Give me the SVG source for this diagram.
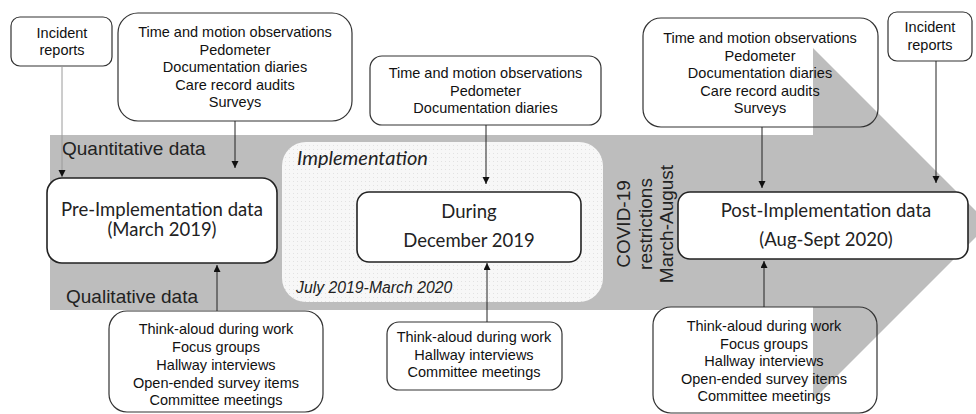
<svg xmlns="http://www.w3.org/2000/svg" xmlns:xlink="http://www.w3.org/1999/xlink" width="976" height="414" viewBox="0 0 976 414">
<defs>
<style>
.box{fill:#fff;stroke:#333;stroke-width:1.2}
.bstroke{fill:none;stroke:#333;stroke-width:1.2}
.main{fill:#fff;stroke:#222;stroke-width:1.6}
.t{font-family:"Liberation Sans",Arial,sans-serif;font-size:14.5px;fill:#111;text-anchor:middle}
.m{font-family:Lato,"Open Sans",sans-serif;font-size:18.5px;fill:#222;text-anchor:middle}
.lab{font-family:"Liberation Sans",Arial,sans-serif;font-size:19px;fill:#222}
.cv{font-family:"Liberation Sans",Arial,sans-serif;font-size:19px;fill:#222;text-anchor:middle}
.con{stroke:#222;stroke-width:1;fill:none;marker-end:url(#ah)}
.head{fill:#bdbdbd}
</style>
<marker id="ah" markerUnits="userSpaceOnUse" markerWidth="8" markerHeight="8" refX="7" refY="3.5" orient="auto">
<path d="M0,0 L7,3.5 L0,7 z" fill="#111"/>
</marker>
<pattern id="dots" width="4" height="4" patternUnits="userSpaceOnUse">
<rect width="4" height="4" fill="#f7f7f7"/>
<rect x="1" y="1" width="1" height="1" fill="#e2e2e2"/>
</pattern>
<polygon id="headShape" points="813,48 989,224 813,400"/>
<clipPath id="clipPQ"><rect x="643" y="18" width="235" height="109" rx="18"/></clipPath>
<clipPath id="clipPL"><rect x="653" y="307" width="224" height="106" rx="18"/></clipPath>
</defs>
<rect width="976" height="414" fill="#fff"/>
<g id="arrow-band">
<polygon class="head" points="50,135 813,135 813,48 989,224 813,400 813,310 50,310"/>
</g>
<g id="implementation">
<rect x="282" y="142" width="321" height="160" rx="24" fill="url(#dots)"/>
<text x="297" y="165" font-family="Lato,'Open Sans',sans-serif" font-style="italic" font-size="20" fill="#222">Implementation</text>
<text x="296" y="293" font-family="'Liberation Sans',Arial,sans-serif" font-style="italic" font-size="15.8" fill="#222">July 2019-March 2020</text>
</g>
<g id="labels">
<text class="lab" x="62" y="155">Quantitative data</text>
<text class="lab" x="66" y="303">Qualitative data</text>
</g>
<g id="covid">
<text class="cv" transform="translate(630,224) rotate(-90)">COVID-19</text>
<text class="cv" transform="translate(652,224) rotate(-90)">restrictions</text>
<text class="cv" transform="translate(673,224) rotate(-90)">March-August</text>
</g>
<g id="incident-pre">
<rect class="box" x="11" y="17" width="101" height="49" rx="9"/>
<text class="t" x="62" y="38">Incident</text>
<text class="t" x="62" y="55">reports</text>
</g>
<g id="quant-pre">
<rect class="box" x="118" y="13" width="234" height="108" rx="20"/>
<text class="t" x="235" y="37">Time and motion observations</text>
<text class="t" x="235" y="54.5">Pedometer</text>
<text class="t" x="235" y="72">Documentation diaries</text>
<text class="t" x="235" y="89.5">Care record audits</text>
<text class="t" x="235" y="107">Surveys</text>
</g>
<g id="qual-pre">
<rect class="box" x="109" y="311" width="214" height="101" rx="18"/>
<text class="t" x="216" y="334">Think-aloud during work</text>
<text class="t" x="216" y="352">Focus groups</text>
<text class="t" x="216" y="370">Hallway interviews</text>
<text class="t" x="216" y="388">Open-ended survey items</text>
<text class="t" x="216" y="405">Committee meetings</text>
</g>
<g id="pre">
<rect class="main" x="47" y="178" width="230" height="85" rx="15"/>
<text class="m" x="162" y="216">Pre-Implementation data</text>
<text class="m" x="162" y="236">(March 2019)</text>
</g>
<g id="quant-during">
<rect class="box" x="370" y="56" width="231" height="69" rx="12"/>
<text class="t" x="485.5" y="78">Time and motion observations</text>
<text class="t" x="485.5" y="95.5">Pedometer</text>
<text class="t" x="485.5" y="113">Documentation diaries</text>
</g>
<g id="qual-during">
<rect class="box" x="387" y="322" width="175" height="68" rx="12"/>
<text class="t" x="474" y="342">Think-aloud during work</text>
<text class="t" x="474" y="359.5">Hallway interviews</text>
<text class="t" x="474" y="377">Committee meetings</text>
</g>
<g id="during">
<rect class="main" x="357" y="192" width="224" height="70" rx="12"/>
<text class="m" x="469" y="218">During</text>
<text class="m" x="469" y="247">December 2019</text>
</g>
<g id="quant-post">
<rect x="643" y="18" width="235" height="109" rx="18" fill="#fff"/>
<use xlink:href="#headShape" class="head" clip-path="url(#clipPQ)"/>
<rect class="bstroke" x="643" y="18" width="235" height="109" rx="18"/>
<text class="t" x="760" y="43">Time and motion observations</text>
<text class="t" x="760" y="60.5">Pedometer</text>
<text class="t" x="760" y="78">Documentation diaries</text>
<text class="t" x="760" y="95.5">Care record audits</text>
<text class="t" x="760" y="113">Surveys</text>
</g>
<g id="incident-post">
<rect class="box" x="888" y="12" width="84" height="49" rx="9"/>
<text class="t" x="930" y="32">Incident</text>
<text class="t" x="930" y="50">reports</text>
</g>
<g id="qual-post">
<rect x="653" y="307" width="224" height="106" rx="18" fill="#fff"/>
<use xlink:href="#headShape" class="head" clip-path="url(#clipPL)"/>
<rect class="bstroke" x="653" y="307" width="224" height="106" rx="18"/>
<text class="t" x="764" y="331">Think-aloud during work</text>
<text class="t" x="764" y="349">Focus groups</text>
<text class="t" x="764" y="366">Hallway interviews</text>
<text class="t" x="764" y="384">Open-ended survey items</text>
<text class="t" x="764" y="401">Committee meetings</text>
</g>
<g id="post">
<rect class="main" x="678" y="192" width="290" height="67" rx="12"/>
<text class="m" x="826" y="217">Post-Implementation data</text>
<text class="m" x="826" y="246">(Aug-Sept 2020)</text>
</g>
<g id="connectors">
<line class="con" x1="62" y1="66" x2="62" y2="177" style="stroke:#9a9a9a"/>
<line class="con" x1="235" y1="121" x2="235" y2="168"/>
<line class="con" x1="217" y1="311" x2="217" y2="265"/>
<line class="con" x1="486" y1="125" x2="486" y2="184"/>
<line class="con" x1="487" y1="322" x2="487" y2="263"/>
<line class="con" x1="762" y1="127" x2="762" y2="188"/>
<line class="con" x1="936" y1="61" x2="936" y2="183"/>
<line class="con" x1="764" y1="307" x2="764" y2="261"/>
</g>
</svg>
